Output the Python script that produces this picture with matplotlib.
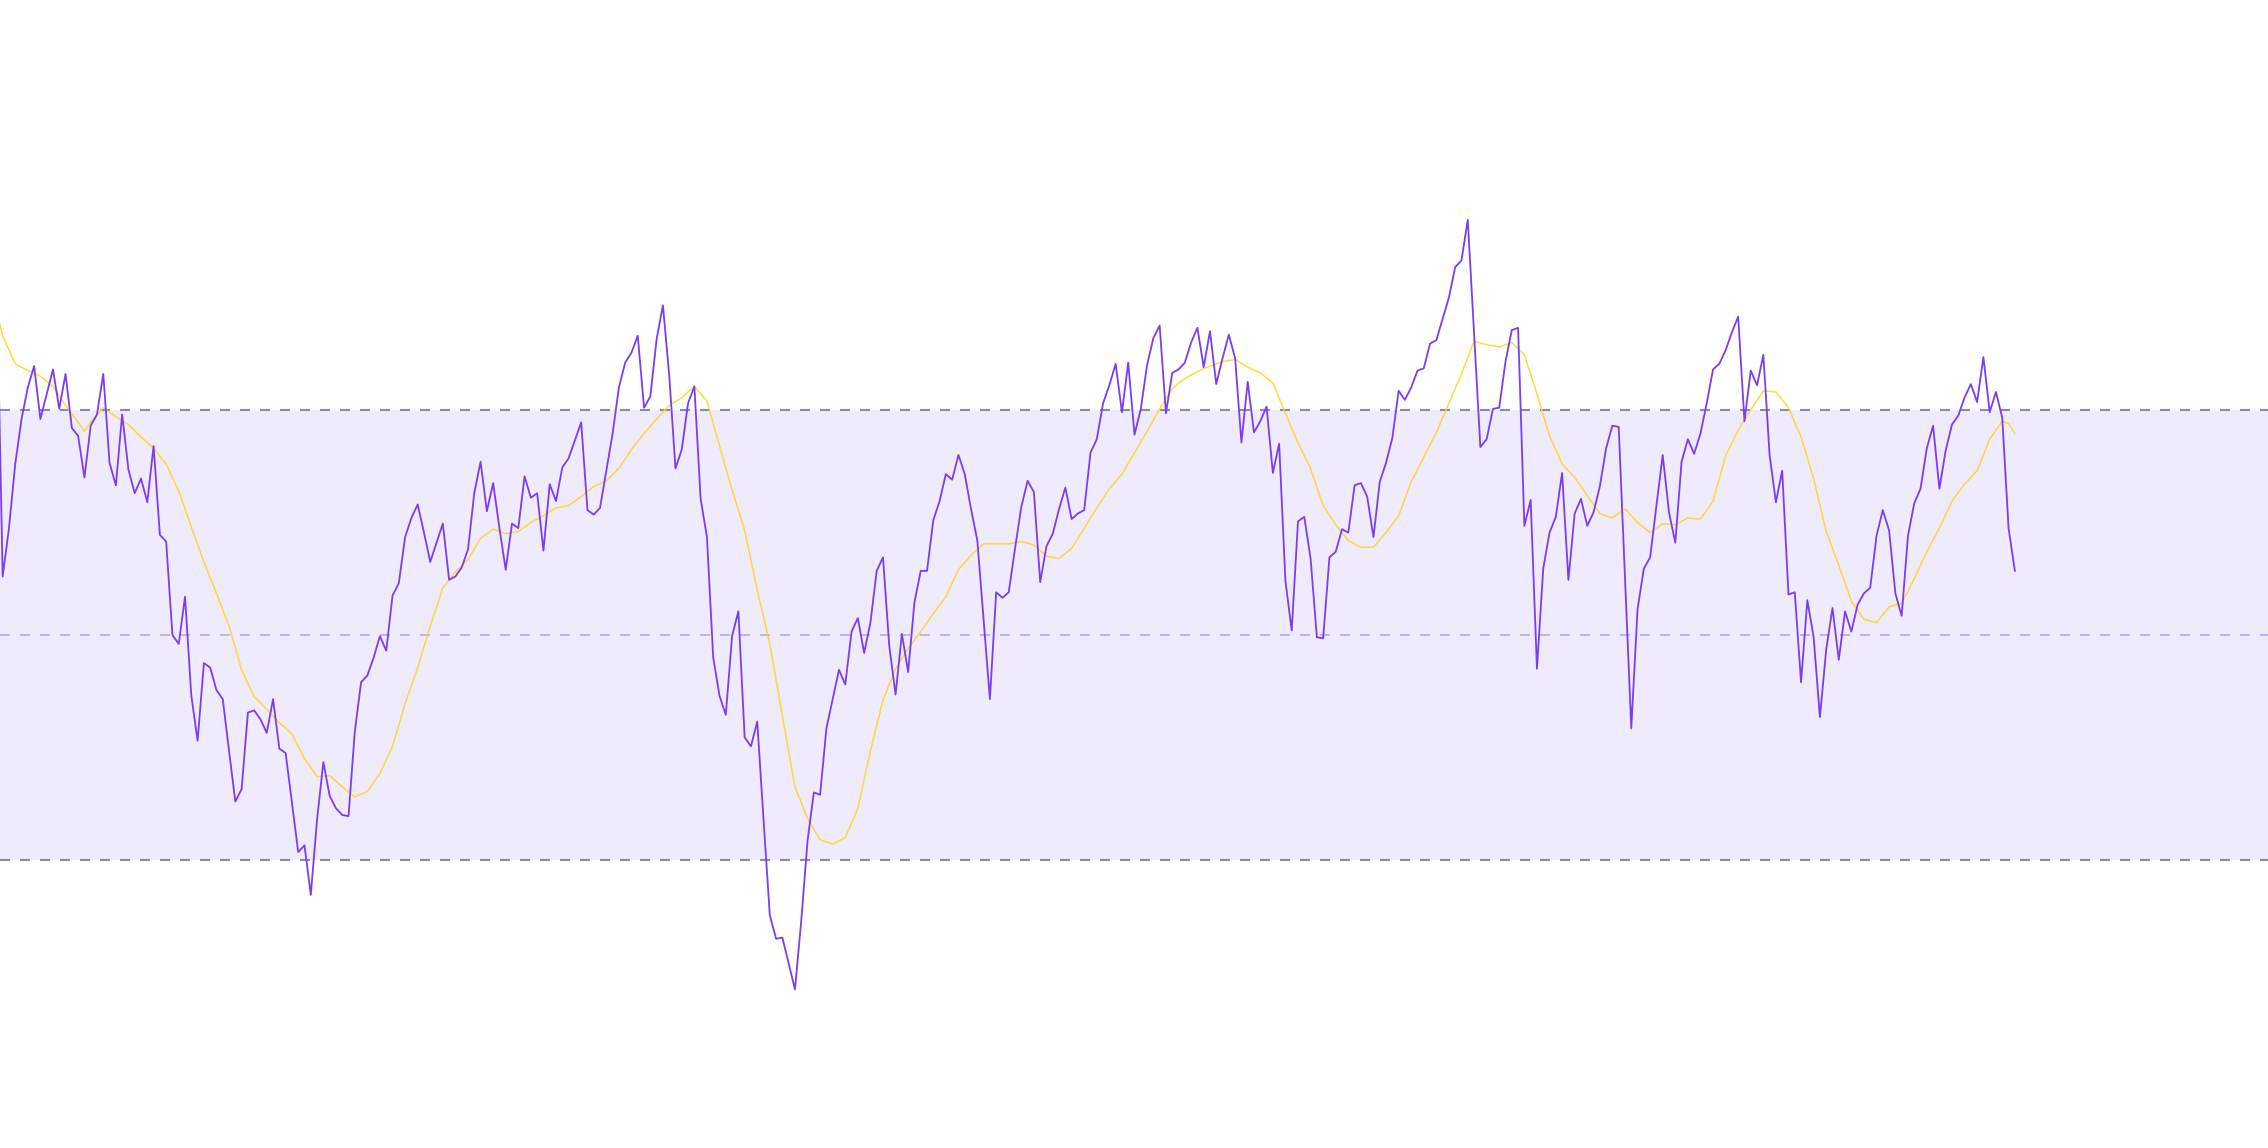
import numpy as np
import matplotlib
matplotlib.use("Agg")
import matplotlib.pyplot as plt

# RSI values, one per bar (first bar sits just left of the visible area)
rsi = [83.0,
       55.2, 59.5, 65.2, 69.2, 72.0, 73.9, 69.2, 71.4, 73.6, 70.1,
       73.2, 68.4, 67.7, 64.0, 68.6, 69.6, 73.2, 65.3, 63.3, 69.6,
       64.7, 62.6, 63.9, 61.8, 66.8, 58.9, 58.3, 50.0, 49.2, 53.4,
       44.6, 40.6, 47.5, 47.1, 45.1, 44.3, 39.7, 35.2, 36.3, 43.1,
       43.3, 42.5, 41.3, 44.3, 39.9, 39.5, 35.1, 30.7, 31.3, 26.9,
       33.6, 38.7, 35.7, 34.6, 34.0, 33.9, 41.4, 45.8, 46.4, 48.0,
       49.9, 48.6, 53.5, 54.6, 58.7, 60.4, 61.6, 59.1, 56.5, 58.2,
       59.9, 54.9, 55.2, 56.0, 57.6, 62.6, 65.4, 61.0, 63.5, 59.5,
       55.8, 59.9, 59.5, 64.1, 62.2, 62.6, 57.5, 63.4, 61.9, 64.9,
       65.7, 67.3, 68.9, 61.1, 60.7, 61.3, 64.6, 67.9, 72.0, 74.2,
       75.1, 76.6, 70.2, 71.2, 76.3, 79.3, 73.1, 64.8, 66.5, 70.6,
       72.1, 62.1, 58.7, 48.0, 44.6, 42.9, 49.9, 52.1, 40.9, 40.1,
       42.3, 33.6, 25.1, 23.0, 23.1, 20.8, 18.5, 24.6, 31.7, 36.0,
       35.8, 41.7, 44.3, 46.9, 45.6, 50.3, 51.5, 48.4, 51.1, 55.7,
       56.9, 49.0, 44.7, 50.1, 46.7, 52.9, 55.7, 55.7, 60.2, 61.9,
       64.3, 63.8, 66.0, 64.3, 61.2, 58.4, 51.4, 44.3, 53.8, 53.3,
       53.8, 57.7, 61.4, 63.7, 62.7, 54.7, 57.9, 59.0, 61.2, 63.1,
       60.3, 60.8, 61.1, 66.2, 67.4, 70.6, 72.2, 74.1, 69.8, 74.2,
       67.8, 70.1, 74.0, 76.4, 77.5, 69.7, 73.3, 73.6, 74.2, 76.0,
       77.3, 73.8, 77.0, 72.3, 74.6, 76.7, 74.6, 67.1, 72.5, 68.0,
       69.0, 70.3, 64.4, 67.0, 54.8, 50.4, 60.1, 60.5, 56.8, 49.8,
       49.7, 56.9, 57.4, 59.4, 59.1, 63.3, 63.5, 62.3, 58.7, 63.6,
       65.3, 67.5, 71.7, 70.9, 72.0, 73.5, 73.7, 75.9, 76.2, 78.1,
       80.0, 82.7, 83.3, 86.9, 76.8, 66.7, 67.4, 70.1, 70.2, 74.3,
       77.1, 77.3, 59.7, 62.0, 47.0, 55.9, 59.1, 60.5, 64.4, 54.9,
       60.8, 62.1, 59.7, 60.9, 63.2, 66.6, 68.6, 68.5, 55.1, 41.7,
       52.3, 55.9, 56.9, 61.5, 66.0, 60.9, 58.2, 65.4, 67.4, 66.1,
       67.9, 70.6, 73.6, 74.1, 75.3, 76.9, 78.3, 69.0, 73.5, 72.2,
       74.9, 66.0, 61.8, 64.6, 53.6, 53.8, 45.8, 53.1, 49.8, 42.7,
       48.7, 52.4, 47.8, 52.1, 50.3, 52.7, 53.7, 54.2, 58.8, 61.1,
       59.3, 53.7, 51.7, 58.8, 61.7, 63.0, 66.6, 68.6, 63.0, 66.4,
       68.7, 69.5, 71.1, 72.3, 70.7, 74.7, 69.8, 71.6, 69.3, 59.5,
       55.7]

# RSI-based moving average, read at every other bar
ma_bar = [-1, 0, 2, 4, 6, 8, 10, 12, 13, 14, 16, 18, 20, 22, 24, 26, 28, 30,
          32, 34, 36, 38, 40, 42, 44, 46, 48, 50, 52, 54, 56, 58, 60, 62, 64,
          66, 68, 70, 72, 74, 76, 78, 80, 82, 84, 86, 88, 90, 92, 94, 96, 98,
          100, 102, 104, 106, 108, 110, 112, 114, 116, 118, 120, 122, 124,
          126, 128, 130, 132, 134, 136, 138, 140, 142, 144, 146, 148, 150,
          152, 154, 156, 158, 160, 162, 164, 166, 168, 170, 172, 174, 176,
          178, 180, 182, 184, 186, 188, 190, 192, 194, 196, 198, 200, 202,
          204, 206, 208, 210, 212, 214, 216, 218, 220, 222, 224, 226, 228,
          230, 232, 234, 236, 238, 240, 242, 244, 246, 248, 250, 252, 254,
          256, 258, 260, 262, 264, 266, 268, 270, 272, 274, 276, 278, 280,
          282, 284, 286, 288, 290, 292, 294, 296, 298, 300, 302, 304, 306,
          308, 310, 312, 314, 316, 318, 319, 320]
ma_val = [79.0, 76.6, 74.1, 73.5, 73.0, 72.1, 70.4, 68.9, 68.1, 68.9, 70.2,
          69.4, 68.7, 67.6, 66.6, 65.2, 62.8, 59.6, 56.5, 53.7, 50.8, 46.9,
          44.5, 43.4, 42.2, 41.2, 39.0, 37.4, 37.5, 36.5, 35.6, 36.1, 37.7,
          40.1, 43.9, 47.1, 50.8, 54.2, 55.6, 56.7, 58.6, 59.4, 59.0, 59.2,
          60.0, 60.6, 61.3, 61.5, 62.3, 63.2, 63.7, 64.8, 66.5, 67.9, 69.2,
          70.4, 71.1, 72.1, 70.8, 66.8, 62.9, 59.3, 54.0, 49.2, 42.8, 36.5,
          33.7, 31.8, 31.4, 32.0, 34.6, 39.7, 44.2, 47.0, 48.8, 50.3, 51.9,
          53.4, 55.8, 57.1, 58.1, 58.1, 58.1, 58.3, 58.0, 57.0, 56.8, 57.7,
          59.5, 61.3, 63.0, 64.3, 66.2, 68.1, 70.1, 71.9, 72.8, 73.4, 73.9,
          74.3, 74.5, 73.8, 73.3, 72.4, 69.7, 67.1, 64.8, 61.5, 59.8, 58.4,
          57.8, 57.8, 59.1, 60.6, 63.6, 65.8, 68.0, 70.6, 73.2, 76.1, 75.8,
          75.6, 76.0, 74.9, 71.4, 67.7, 65.2, 64.0, 62.4, 60.8, 60.4, 61.2,
          60.0, 59.1, 59.9, 59.8, 60.4, 60.3, 61.9, 65.9, 68.2, 70.0, 71.7,
          71.6, 70.2, 67.6, 63.9, 59.2, 56.2, 53.0, 51.4, 51.1, 52.5, 52.8,
          55.0, 57.4, 59.5, 61.9, 63.4, 64.6, 67.4, 69.0, 68.8, 67.9]

# band levels
upper, middle, lower = 70, 50, 30

bars = np.arange(-1, len(rsi) - 1)

plt.rcParams['lines.scale_dashes'] = False

fig = plt.figure(figsize=(22.68, 11.48), dpi=100)
ax = fig.add_axes([0, 0, 1, 1])

# shaded band between the two outer levels
ax.axhspan(lower, upper, color='#f0eafd', lw=0, zorder=0)
ax.axhline(upper, color='#8e88aa', lw=1.5, dashes=(7.2, 7.2), zorder=1)
ax.axhline(middle, color='#bcaeec', lw=1.3, dashes=(7.2, 7.2), zorder=1)
ax.axhline(lower, color='#8e88aa', lw=1.5, dashes=(7.2, 7.2), zorder=1)

# moving average under the RSI line
ax.plot(ma_bar, ma_val, color='#f8d81c', lw=1.1, alpha=0.85, zorder=2)
ax.plot(bars, rsi, color='#7a3ef0', lw=1.3, zorder=3)

ax.set_xlim(-0.425, 360.26)
ax.set_ylim(4.4, 106.44)
ax.axis('off')

fig.savefig('out.png', dpi=100)
